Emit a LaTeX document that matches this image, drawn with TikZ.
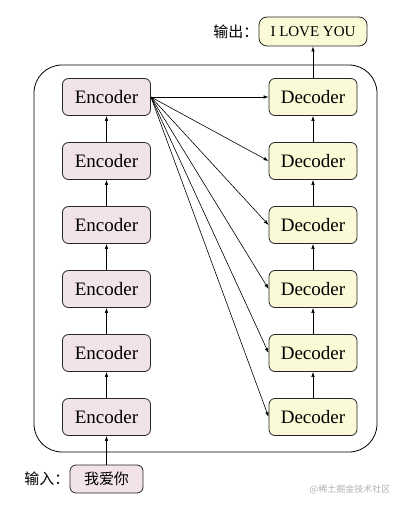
\documentclass[tikz,border=0pt]{standalone}
\usepackage{fontspec}
\setmainfont{Liberation Serif}
\newfontfamily\cjk{Noto Sans CJK SC}
\usetikzlibrary{arrows.meta}
\definecolor{encfill}{RGB}{241,227,230}
\definecolor{decfill}{RGB}{250,250,214}
\begin{document}
\begin{tikzpicture}[x=1pt,y=-1pt,
  enc/.style={draw=black!85,line width=0.8pt,rounded corners=6pt,fill=encfill,minimum width=88pt,minimum height=37pt,inner sep=0pt,font=\fontsize{19}{19}\selectfont},
  dec/.style={enc,fill=decfill},
  lab/.style={inner sep=0pt,font=\cjk\fontsize{15}{15}\selectfont},
  arr/.style={-{Latex[length=5pt,width=3.5pt]},line width=0.6pt}]
\useasboundingbox (0,0) rectangle (401,507);
\fill[white] (0,0) rectangle (401,507);
\draw[line width=0.8pt,rounded corners=28pt] (34,65) rectangle (377,452);
\foreach \i in {1,...,6}{
  \node[enc] (e\i) at (106.5,{97+64*(\i-1)}) {Encoder};
  \node[dec] (d\i) at (313,{97+64*(\i-1)}) {Decoder};
}
\node[dec,minimum width=108pt,minimum height=29pt,rounded corners=8pt,font=\fontsize{15}{15}\selectfont] (out) at (313,31.5) {I LOVE YOU};
\node[enc,minimum width=73pt,minimum height=28pt,font=\cjk\fontsize{15}{15}\selectfont] (in) at (106.5,479) {我爱你};
\node[lab,anchor=east] (outl) at (out.west) {输出：};
\node[lab,anchor=east] (inl) at (in.west) {输入：};
\node[inner sep=0pt,font=\cjk\fontsize{9}{9}\selectfont,text=black!30] (wm) at (350,489) {@稀土掘金技术社区};
\foreach \i/\j in {2/1,3/2,4/3,5/4,6/5}{
  \draw[arr] (e\i.north) -- (e\j.south);
  \draw[arr] (d\i.north) -- (d\j.south);
}
\draw[arr] (in.north) -- (e6.south);
\draw[arr] (d1.north) -- (out.south);
\foreach \i in {1,...,6}{
  \draw[arr] (e1.east) -- (d\i.west);
}
\end{tikzpicture}
\end{document}
